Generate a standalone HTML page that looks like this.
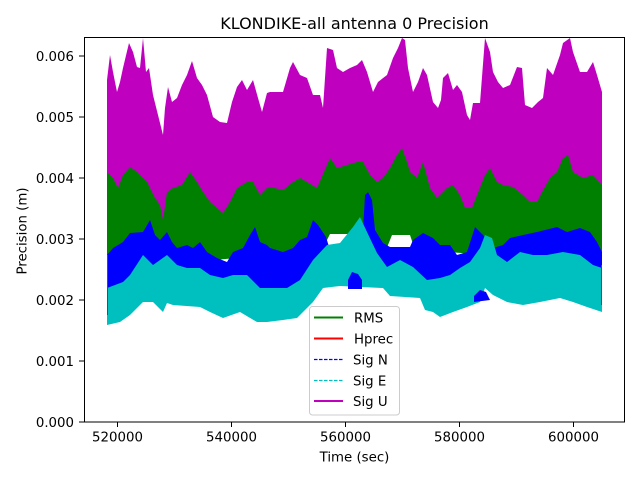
<!DOCTYPE html>
<html><head><meta charset="utf-8"><style>
html,body{margin:0;padding:0;background:#fff;}
svg{display:block;}
text{font-family:"DejaVu Sans","Liberation Sans",sans-serif;fill:#000;}
</style></head><body>
<svg width="640" height="480" viewBox="0 0 640 480" xmlns="http://www.w3.org/2000/svg">
<rect x="0" y="0" width="640" height="480" fill="#fff"/>
<defs><clipPath id="ax"><rect x="84" y="37" width="541" height="385"/></clipPath></defs>
<g clip-path="url(#ax)">
<!-- RMS green -->
<polygon fill="#008000" points="107,166 113,172 118,182 123,169 130,161 137,166 147,176 155,192 160,199 163,214 167,186 173,182 182,179 190,166 197,176 203,186 210,196 217,202 223,207 230,196 237,182 247,176 253,176 260,189 267,182 270,181 283,184 293,176 300,172 307,176 317,182 327,159 330,152 337,162 347,159 357,156 363,156 370,169 377,176 383,172 390,162 397,149 402,142 407,156 410,166 417,172 423,156 430,182 437,192 443,186 447,182 453,179 460,189 465,202 472,202 477,189 485,169 490,162 497,176 503,179 513,181 523,189 530,196 537,196 542,186 550,172 557,166 563,152 568,149 573,166 583,172 593,169 602,179 602,262 415,250 410,235 392,235 386,250 355,250 348,234 330,234 322,250 107,270"/>
<!-- Sig N blue -->
<polygon fill="#0000ff" points="107,255 113,248 123,242 130,233 143,232 150,220 155,235 160,240 167,232 172,242 177,248 187,245 193,248 200,242 207,252 217,258 227,262 233,252 243,248 250,235 255,227 260,242 267,245 270,248 283,252 293,248 300,240 307,237 313,220 318,225 326,237 330,250 345,250 350,246 357,240 363,230 365,195 368,192 372,200 375,230 383,243 390,247 410,247 413,240 423,233 433,238 440,245 450,245 457,255 467,252 475,227 483,235 493,248 503,245 510,238 523,235 537,232 557,227 567,232 580,228 590,232 597,242 602,252 602,290 560,280 480,270 440,295 400,275 360,260 327,265 300,295 107,300"/>
<!-- Sig E cyan -->
<polygon fill="#00bfbf" points="107,288 123,282 130,275 143,255 153,265 167,255 177,265 187,268 200,268 210,275 223,278 233,275 247,275 260,288 270,288 287,288 300,280 313,260 327,245 340,243 353,227 360,217 367,232 377,253 387,267 400,260 413,267 427,280 440,278 450,275 460,268 470,262 480,248 485,235 492,238 497,255 507,262 520,252 533,255 547,255 563,252 580,255 593,265 602,268 602,312 587,307 573,302 560,298 540,302 523,305 507,302 493,295 485,288 480,302 467,307 453,312 440,317 433,312 425,310 420,298 390,296 383,288 340,286 323,288 313,302 303,312 297,318 283,320 267,322 257,322 240,312 223,318 210,312 200,307 173,305 167,303 163,312 153,302 143,302 130,315 120,322 107,325"/>
<polygon fill="#0000ff" points="348,280 352,272 358,274 362,280 362,289 348,289"/>
<polygon fill="#0000ff" points="474,296 480,290 486,292 490,300 474,302"/>
<line x1="107.5" y1="255" x2="107.5" y2="315" stroke="#ff0000" stroke-width="1"/>
<line x1="601.5" y1="265" x2="601.5" y2="305" stroke="#ff0000" stroke-width="1"/>
<!-- Sig U magenta -->
<polygon fill="#bf00bf" points="107,80 110,55 113,72 117,92 120,82 123,68 129,43 133,52 137,67 140,68 143,38 146,72 149,68 153,95 158,115 163,135 165,108 168,87 172,102 177,98 182,85 187,75 192,61 197,78 202,85 207,95 213,117 220,122 227,123 232,102 237,87 242,80 247,90 253,80 258,98 262,112 267,93 270,92 283,92 290,68 293,62 300,75 307,78 313,95 320,95 323,108 327,48 333,50 337,68 343,72 350,68 357,65 362,60 367,72 373,92 378,82 387,75 393,58 398,48 402,38 405,40 408,68 413,92 418,82 423,68 427,75 433,102 438,108 441,100 443,78 448,73 453,90 457,85 462,92 467,115 470,120 473,103 480,103 485,38 490,52 493,72 498,82 503,88 510,85 517,67 522,68 525,105 532,108 538,102 543,98 547,68 553,75 560,55 563,43 570,38 573,52 580,72 587,72 593,62 597,75 602,92 602,185 593,175 583,178 573,172 568,155 563,158 557,172 550,178 542,192 537,202 530,202 523,195 513,187 503,185 497,182 490,168 485,175 477,195 472,208 465,208 460,195 453,185 447,188 443,192 437,198 430,188 423,162 417,178 410,172 407,162 402,148 397,155 390,168 383,178 377,182 370,175 363,162 357,162 347,165 337,168 330,158 327,165 317,188 307,182 300,178 293,182 283,190 270,187 267,188 260,195 253,182 247,182 237,188 230,202 223,213 217,208 210,202 203,192 197,182 190,172 182,185 173,188 167,192 163,220 160,205 155,198 147,182 137,172 130,167 123,175 118,188 113,178 107,172"/>
</g>
<!-- axes frame -->
<rect x="84.5" y="37.5" width="540" height="384.5" fill="none" stroke="#000" stroke-width="1"/>
<g stroke="#000" stroke-width="1">
<line x1="117.5" y1="422" x2="117.5" y2="427"/>
<line x1="231.5" y1="422" x2="231.5" y2="427"/>
<line x1="345.5" y1="422" x2="345.5" y2="427"/>
<line x1="459.5" y1="422" x2="459.5" y2="427"/>
<line x1="573.5" y1="422" x2="573.5" y2="427"/>
<line x1="79" y1="422" x2="84" y2="422"/>
<line x1="79" y1="361" x2="84" y2="361"/>
<line x1="79" y1="300" x2="84" y2="300"/>
<line x1="79" y1="239" x2="84" y2="239"/>
<line x1="79" y1="178" x2="84" y2="178"/>
<line x1="79" y1="117" x2="84" y2="117"/>
<line x1="79" y1="56" x2="84" y2="56"/>
</g>
<g font-size="13.33" text-anchor="middle">
<text x="117.5" y="441.5">520000</text>
<text x="231.5" y="441.5">540000</text>
<text x="345.5" y="441.5">560000</text>
<text x="459.5" y="441.5">580000</text>
<text x="573.5" y="441.5">600000</text>
</g>
<g font-size="13.33" text-anchor="end">
<text x="74" y="426.8">0.000</text>
<text x="74" y="365.8">0.001</text>
<text x="74" y="304.8">0.002</text>
<text x="74" y="243.8">0.003</text>
<text x="74" y="182.8">0.004</text>
<text x="74" y="121.8">0.005</text>
<text x="74" y="60.8">0.006</text>
</g>
<text x="354.5" y="461.5" font-size="13.33" text-anchor="middle">Time (sec)</text>
<text transform="translate(26.5,231) rotate(-90)" font-size="13.33" text-anchor="middle">Precision (m)</text>
<text x="354.5" y="29" font-size="16" text-anchor="middle">KLONDIKE-all antenna 0 Precision</text>
<!-- legend -->
<rect x="309.5" y="306.5" width="90" height="108.5" rx="3" ry="3" fill="#fff" fill-opacity="0.8" stroke="#cccccc" stroke-width="1"/>
<line x1="314" y1="317.5" x2="343" y2="317.5" stroke="#008000" stroke-width="2"/>
<line x1="314" y1="338.5" x2="343" y2="338.5" stroke="#ff0000" stroke-width="2"/>
<line x1="314" y1="359.5" x2="343" y2="359.5" stroke="#0000ff" stroke-width="1.2" stroke-dasharray="3.5,1.5"/>
<line x1="314" y1="380.5" x2="343" y2="380.5" stroke="#00bfbf" stroke-width="1.2" stroke-dasharray="3.5,1.5"/>
<line x1="314" y1="401" x2="343" y2="401" stroke="#bf00bf" stroke-width="2"/>
<g font-size="13.33">
<text x="354" y="322.5">RMS</text>
<text x="354" y="343.5">Hprec</text>
<text x="353" y="364.5">Sig N</text>
<text x="353" y="385.5">Sig E</text>
<text x="353" y="406">Sig U</text>
</g>
</svg>
</body></html>
